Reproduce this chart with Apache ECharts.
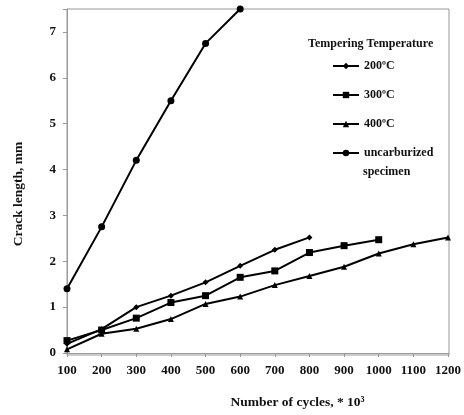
<!DOCTYPE html>
<html>
<head>
<meta charset="utf-8">
<script src="https://cdn.jsdelivr.net/npm/echarts@6/dist/echarts.min.js"></script>
<style>
  html, body { margin: 0; padding: 0; background: #fff; }
  #chart { width: 464px; height: 415px; }
</style>
</head>
<body>
<div id="chart"></div>
<script>
// cycles (* 10^3)
const cycles = [100, 200, 300, 400, 500, 600, 700, 800, 900, 1000, 1100, 1200]
const seriesNames = ['200ºC', '300ºC', '400ºC', 'uncarburized specimen']
// crack length, mm
const t200 = [0.2, 0.52, 1.0, 1.25, 1.54, 1.9, 2.25, 2.52]
const t300 = [0.27, 0.5, 0.76, 1.1, 1.25, 1.65, 1.79, 2.19, 2.34, 2.47]
const t400 = [0.08, 0.42, 0.53, 0.74, 1.07, 1.23, 1.48, 1.68, 1.88, 2.17, 2.37, 2.52]
const uncarb = [1.4, 2.75, 4.2, 5.5, 6.75, 7.5]

const font = 'Liberation Serif'
const pair = (vals) => vals.map((v, i) => [cycles[i], v])

const chart = echarts.init(document.getElementById('chart'))

const mkSeries = (name, vals, symbol, size) => ({
  name: name,
  type: 'line',
  data: pair(vals),
  symbol: symbol,
  symbolSize: size,
  lineStyle: { color: '#000', width: 2 },
  itemStyle: { color: '#000' },
  animation: false
})

const txt = { fontFamily: font, fontSize: 13, fontWeight: 'bold', color: '#111' }

chart.setOption({
  backgroundColor: '#fff',
  title: {
    text: 'Tempering Temperature',
    left: 303,
    top: 33,
    textStyle: Object.assign({}, txt, { fontSize: 12 })
  },
  legend: {
    orient: 'vertical',
    left: 327,
    top: 55,
    itemGap: 17,
    itemWidth: 26,
    itemHeight: 8,
    data: seriesNames,
    // second line of the last entry is drawn separately below
    formatter: (n) => n.split(' ')[0],
    textStyle: { fontFamily: font, fontSize: 12, fontWeight: 'bold', color: '#111' }
  },
  grid: { left: 67, right: 15, top: 9, bottom: 60 },
  xAxis: {
    type: 'value',
    min: 100,
    max: 1200,
    interval: 100,
    name: 'Number of cycles, * 10³',
    nameLocation: 'middle',
    nameGap: 43,
    nameTextStyle: Object.assign({}, txt, { fontSize: 13.5, padding: [0, 0, 0, 80] }),
    axisLine: { show: true, lineStyle: { color: '#999' } },
    axisTick: { show: true, length: 4, lineStyle: { color: '#999' } },
    axisLabel: Object.assign({}, txt, { margin: 11, formatter: (v) => String(v) }),
    splitLine: { show: false }
  },
  yAxis: {
    type: 'value',
    min: 0,
    max: 7.5,
    interval: 1,
    name: 'Crack length, mm',
    nameLocation: 'middle',
    nameGap: 41,
    nameTextStyle: Object.assign({}, txt, { fontSize: 13.5, padding: [0, 26, 0, 0] }),
    axisLine: { show: true, lineStyle: { color: '#999' } },
    axisTick: { show: true, length: 4, lineStyle: { color: '#999' } },
    axisLabel: Object.assign({}, txt, {
      margin: 11,
      formatter: (v) => (Number.isInteger(v) ? String(v) : '')
    }),
    splitLine: { show: false }
  },
  graphic: [
    {
      type: 'rect',
      shape: { x: 67, y: 9, width: 382, height: 346 },
      style: { fill: 'none', stroke: '#999', lineWidth: 1 },
      silent: true
    },
    {
      type: 'text',
      left: 363,
      top: 166,
      style: { text: 'specimen', font: 'bold 12px "Liberation Serif"', fill: '#111' },
      silent: true
    }
  ],
  series: [
    mkSeries(seriesNames[0], t200, 'diamond', 6),
    mkSeries(seriesNames[1], t300, 'rect', 7),
    mkSeries(seriesNames[2], t400, 'triangle', 6),
    mkSeries(seriesNames[3], uncarb, 'circle', 7)
  ]
})
</script>
</body>
</html>
